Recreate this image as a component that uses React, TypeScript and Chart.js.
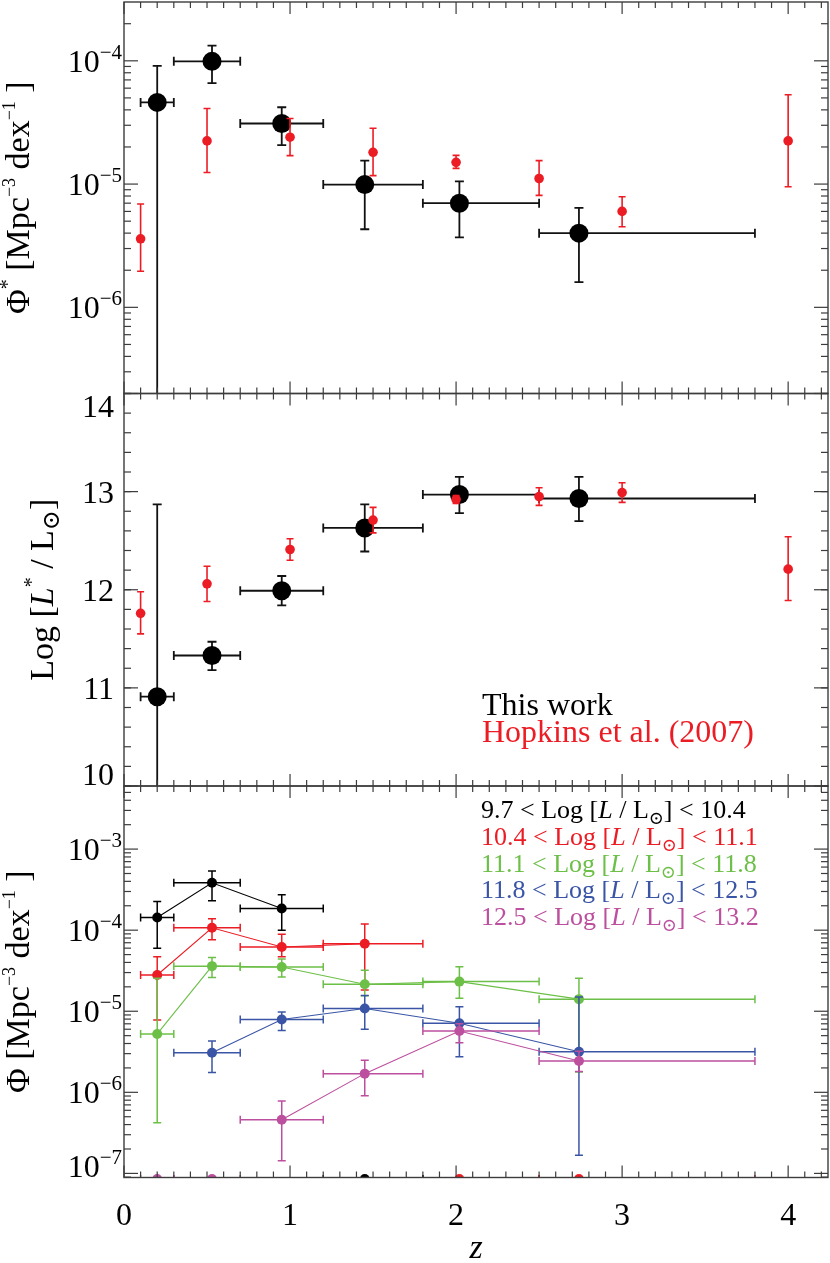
import { useEffect, useRef } from 'react';
import { Chart, registerables } from 'chart.js';

Chart.register(...registerables);

// ---------------- data ----------------
// redshift bins of "This work"
const zThisWork = [0.2, 0.53, 0.95, 1.45, 2.02, 2.74];
const zBinLo = [0.1, 0.3, 0.7, 1.2, 1.8, 2.5];
const zBinHi = [0.3, 0.7, 1.2, 1.8, 2.5, 3.8];

// Panel 1: Phi* (This work)
const phiStar = [4.6e-5, 9.9e-5, 3.1e-5, 9.9e-6, 7.0e-6, 4.0e-6];
const phiStarLo = [1e-9, 6.6e-5, 2.07e-5, 4.3e-6, 3.7e-6, 1.6e-6];
const phiStarHi = [9.1e-5, 1.33e-4, 4.2e-5, 1.55e-5, 1.05e-5, 6.4e-6];

// Hopkins et al. (2007)
const zHopkins = [0.1, 0.5, 1.0, 1.5, 2.0, 2.5, 3.0, 4.0];
const hopPhiStar = [3.6e-6, 2.24e-5, 2.4e-5, 1.81e-5, 1.5e-5, 1.11e-5, 6.0e-6, 2.24e-5];
const hopPhiStarLo = [1.96e-6, 1.24e-5, 1.7e-5, 1.17e-5, 1.34e-5, 8.1e-6, 4.5e-6, 9.5e-6];
const hopPhiStarHi = [6.9e-6, 4.1e-5, 3.4e-5, 2.84e-5, 1.71e-5, 1.55e-5, 7.9e-6, 5.3e-5];

// Panel 2: Log L*
const logLStar = [10.91, 11.33, 11.99, 12.63, 12.97, 12.93];
const logLStarLo = [9.0, 11.18, 11.84, 12.39, 12.78, 12.7];
const logLStarHi = [12.87, 11.47, 12.14, 12.87, 13.15, 13.15];
const hopLogL = [11.76, 12.06, 12.41, 12.71, 12.92, 12.95, 12.99, 12.21];
const hopLogLLo = [11.55, 11.88, 12.3, 12.58, 12.88, 12.86, 12.89, 11.89];
const hopLogLHi = [11.98, 12.24, 12.52, 12.84, 12.96, 13.04, 13.09, 12.54];

// Panel 3: Phi per luminosity bin
const lumBinLabels = [
  ['9.7', '10.4'],
  ['10.4', '11.1'],
  ['11.1', '11.8'],
  ['11.8', '12.5'],
  ['12.5', '13.2'],
];
const binAz = [0.2, 0.53, 0.95];
const binA = [1.43e-4, 3.84e-4, 1.85e-4];
const binALo = [6.0e-5, 2.3e-4, 1.0e-4];
const binAHi = [2.25e-4, 5.35e-4, 2.73e-4];

const binBz = [0.2, 0.53, 0.95, 1.45];
const binB = [2.8e-5, 1.07e-4, 6.2e-5, 6.8e-5];
const binBLo = [7.8e-6, 7.6e-5, 4.7e-5, 1.83e-5];
const binBHi = [4.7e-5, 1.38e-4, 8.9e-5, 1.19e-4];

const binCz = [0.2, 0.53, 0.95, 1.45, 2.02, 2.74];
const binC = [5.25e-6, 3.6e-5, 3.52e-5, 2.15e-5, 2.32e-5, 1.41e-5];
const binCLo = [4.2e-7, 2.6e-5, 2.65e-5, 1.55e-5, 1.45e-5, 1.78e-6];
const binCHi = [2.55e-5, 4.6e-5, 4.4e-5, 3.2e-5, 3.55e-5, 2.55e-5];

const binDz = [0.53, 0.95, 1.45, 2.02, 2.74];
const binD = [3.08e-6, 7.9e-6, 1.08e-5, 7.1e-6, 3.17e-6];
const binDLo = [1.75e-6, 5.8e-6, 6.0e-6, 2.75e-6, 1.68e-7];
const binDHi = [4.3e-6, 9.8e-6, 1.56e-5, 1.14e-5, 1.5e-5];

const binEz = [0.95, 1.45, 2.02, 2.74];
const binE = [4.6e-7, 1.7e-6, 5.7e-6, 2.43e-6];
const binELo = [1.43e-7, 9.1e-7, 4.1e-6, 1.8e-6];
const binEHi = [7.8e-7, 2.48e-6, 7.0e-6, 3.2e-6];

// empty bins (Phi = 0), plotted at the floor of the axis
const emptyAz = [1.45];
const emptyBz = [2.02, 2.74];
const emptyEz = [0.2, 0.53];
const PHI_FLOOR = 8.5e-8;

// axis ticks
const zTicks = [0, 1, 2, 3, 4];
const phiStarTicks = [1e-6, 1e-5, 1e-4];
const logLTicks = [10, 11, 12, 13, 14];
const phiTicks = [1e-7, 1e-6, 1e-5, 1e-4, 1e-3];

// ---------------- layout / style ----------------
const W = 830;
const H = 1263;
const PLOT_LEFT = 124;
const PLOT_RIGHT = 828;
const X_MAX = 4.24;
const PANELS = [
  { top: 2, bottom: 393.5 },
  { top: 393.5, bottom: 786 },
  { top: 786, bottom: 1177.5 },
];
const FONT = "'Liberation Serif', 'Times New Roman', 'DejaVu Serif', serif";
const C_BLACK = '#000000';
const C_RED = '#ec1c24';
const C_GREEN = '#6cbf47';
const C_BLUE = '#3a55a5';
const C_MAG = '#bc4f9e';

type Seg = { t: string; it?: boolean; sz?: number; dy?: number; color?: string };

function fontStr(size: number, italic?: boolean) {
  return `${italic ? 'italic ' : ''}${size}px ${FONT}`;
}
function richWidth(ctx: CanvasRenderingContext2D, segs: Seg[], base: number) {
  let w = 0;
  for (const s of segs) {
    ctx.font = fontStr(s.sz ?? base, s.it);
    w += ctx.measureText(s.t).width;
  }
  return w;
}
function drawRich(
  ctx: CanvasRenderingContext2D,
  segs: Seg[],
  x: number,
  y: number,
  base: number,
  align: 'left' | 'right' | 'center',
) {
  const w = richWidth(ctx, segs, base);
  let cx = align === 'left' ? x : align === 'right' ? x - w : x - w / 2;
  ctx.textAlign = 'left';
  ctx.textBaseline = 'alphabetic';
  for (const s of segs) {
    ctx.font = fontStr(s.sz ?? base, s.it);
    if (s.color) ctx.fillStyle = s.color;
    ctx.fillText(s.t, cx, y + (s.dy ?? 0));
    cx += ctx.measureText(s.t).width;
  }
}

// error bars drawn through the chart scales
const errorBarPlugin = {
  id: 'errbars',
  beforeDatasetDraw(chart: any, args: any) {
    const ds: any = chart.data.datasets[args.index];
    const e = ds.err;
    if (!e) return;
    const { ctx, chartArea: a } = chart;
    const xs = chart.scales.x;
    const ys = chart.scales.y;
    ctx.save();
    ctx.beginPath();
    ctx.rect(a.left, a.top, a.right - a.left, a.bottom - a.top);
    ctx.clip();
    ctx.strokeStyle = e.color;
    ctx.lineWidth = e.width;
    const cap = e.cap / 2;
    const seg = (x1: number, y1: number, x2: number, y2: number) => {
      ctx.beginPath();
      ctx.moveTo(x1, y1);
      ctx.lineTo(x2, y2);
      ctx.stroke();
    };
    ds.data.forEach((p: any, i: number) => {
      const px = xs.getPixelForValue(p.x);
      const py = ys.getPixelForValue(p.y);
      if (e.yLo) {
        const y1 = ys.getPixelForValue(e.yLo[i]);
        const y2 = ys.getPixelForValue(e.yHi[i]);
        seg(px, y1, px, y2);
        seg(px - cap, y1, px + cap, y1);
        seg(px - cap, y2, px + cap, y2);
      }
      if (e.xLo) {
        const x1 = xs.getPixelForValue(e.xLo[i]);
        const x2 = xs.getPixelForValue(e.xHi[i]);
        seg(x1, py, x2, py);
        seg(x1, py - cap, x1, py + cap);
        seg(x2, py - cap, x2, py + cap);
      }
    });
    ctx.restore();
  },
};

function expLabel(v: number): Seg[] {
  const n = Math.round(Math.log10(v));
  return [{ t: '10' }, { t: '\u2212' + Math.abs(n), sz: 21, dy: -13 }];
}

function logMinor(min: number, max: number) {
  const out: number[] = [];
  for (let d = Math.floor(Math.log10(min)); d <= Math.ceil(Math.log10(max)); d++) {
    for (let k = 2; k <= 9; k++) {
      const v = k * Math.pow(10, d);
      if (v >= min && v <= max) out.push(v);
    }
  }
  return out;
}
function linMinor(min: number, max: number, step: number) {
  const out: number[] = [];
  for (let v = min; v <= max + 1e-9; v += step) out.push(Math.round(v * 1000) / 1000);
  return out;
}

type Deco = {
  name: string;
  yMajor: number[];
  yMinor: number[];
  yLabel: (v: number) => Seg[];
  labelRight: number;
  title: Seg[];
  titleX: number;
  legend: { segs: Seg[]; x: number; y: number; size: number; color: string }[];
  xLabels: boolean;
};

function decoPlugin(cfg: Deco) {
  return {
    id: 'deco_' + cfg.name,
    afterDraw(chart: any) {
      const { ctx, chartArea: a } = chart;
      const xs = chart.scales.x;
      const ys = chart.scales.y;
      ctx.save();
      ctx.strokeStyle = '#3c3c3c';
      ctx.lineWidth = 1.2;
      const seg = (x1: number, y1: number, x2: number, y2: number) => {
        ctx.beginPath();
        ctx.moveTo(x1, y1);
        ctx.lineTo(x2, y2);
        ctx.stroke();
      };
      for (let k = 0; k <= 42; k++) {
        const v = k / 10;
        if (v > X_MAX) break;
        const px = xs.getPixelForValue(v);
        const len = k % 10 === 0 ? 12 : 6;
        seg(px, a.top, px, a.top + len);
        seg(px, a.bottom, px, a.bottom - len);
      }
      for (const v of cfg.yMinor) {
        const py = ys.getPixelForValue(v);
        seg(a.left, py, a.left + 7, py);
        seg(a.right, py, a.right - 7, py);
      }
      for (const v of cfg.yMajor) {
        const py = ys.getPixelForValue(v);
        seg(a.left, py, a.left + 14, py);
        seg(a.right, py, a.right - 14, py);
      }
      ctx.lineWidth = 1.4;
      ctx.strokeRect(a.left, a.top, a.right - a.left, a.bottom - a.top);

      ctx.fillStyle = '#000';
      for (const v of cfg.yMajor) {
        let cy = ys.getPixelForValue(v);
        cy = Math.min(Math.max(cy, a.top + 12), a.bottom - 12);
        drawRich(ctx, cfg.yLabel(v), cfg.labelRight, cy + 11, 32, 'right');
      }
      // y title
      ctx.save();
      ctx.translate(cfg.titleX, (a.top + a.bottom) / 2);
      ctx.rotate(-Math.PI / 2);
      ctx.fillStyle = '#000';
      drawRich(ctx, cfg.title, 0, 0, 34, 'center');
      ctx.restore();
      // legend text
      for (const l of cfg.legend) {
        ctx.fillStyle = l.color;
        drawRich(ctx, l.segs, l.x, l.y, l.size, 'left');
      }
      if (cfg.xLabels) {
        ctx.fillStyle = '#000';
        for (const v of zTicks) {
          drawRich(ctx, [{ t: String(v) }], xs.getPixelForValue(v), 1225, 32, 'center');
        }
        drawRich(ctx, [{ t: 'z', it: true }], (a.left + a.right) / 2, 1258, 34, 'center');
      }
      ctx.restore();
    },
  };
}

function pts(xs: number[], ys: number[]) {
  return xs.map((x, i) => ({ x, y: ys[i] }));
}
function binLo(zs: number[]) {
  return zs.map((z) => zBinLo[zThisWork.indexOf(z)]);
}
function binHi(zs: number[]) {
  return zs.map((z) => zBinHi[zThisWork.indexOf(z)]);
}

function makeConfig(panel: number, datasets: any[], yType: string, yMin: number, yMax: number, deco: Deco): any {
  const p = PANELS[panel];
  return {
    type: 'scatter',
    data: { datasets },
    options: {
      responsive: false,
      animation: false,
      devicePixelRatio: 1,
      events: [],
      layout: {
        autoPadding: false,
        padding: { left: PLOT_LEFT, right: W - PLOT_RIGHT, top: p.top, bottom: H - p.bottom },
      },
      scales: {
        x: { type: 'linear', min: 0, max: X_MAX, display: false },
        y: { type: yType, min: yMin, max: yMax, display: false },
      },
      plugins: { legend: { display: false }, tooltip: { enabled: false } },
    },
    plugins: [errorBarPlugin, decoPlugin(deco)],
  };
}

const solarSegs = (lo: string, hi: string): Seg[] => [
  { t: `${lo} < Log [` },
  { t: 'L', it: true },
  { t: ' / L' },
  { t: '\u2299', sz: 18, dy: 6 },
  { t: `] < ${hi}` },
];

function buildConfigs() {
  // panel 1
  const p1 = makeConfig(
    0,
    [
      {
        label: 'Hopkins et al. (2007)',
        data: pts(zHopkins, hopPhiStar),
        pointRadius: 4.8,
        pointBackgroundColor: C_RED,
        pointBorderWidth: 0,
        order: 0,
        err: { yLo: hopPhiStarLo, yHi: hopPhiStarHi, color: C_RED, width: 1.6, cap: 7 },
      },
      {
        label: 'This work',
        data: pts(zThisWork, phiStar),
        pointRadius: 9.5,
        pointBackgroundColor: C_BLACK,
        pointBorderWidth: 0,
        order: 1,
        err: { yLo: phiStarLo, yHi: phiStarHi, xLo: zBinLo, xHi: zBinHi, color: '#111', width: 1.8, cap: 9 },
      },
    ],
    'logarithmic',
    2e-7,
    3e-4,
    {
      name: 'p1',
      yMajor: phiStarTicks,
      yMinor: logMinor(2e-7, 3e-4),
      yLabel: expLabel,
      labelRight: 122,
      title: [
        { t: '\u03A6' },
        { t: '*', sz: 20, dy: -15 },
        { t: ' [Mpc' },
        { t: '\u22123', sz: 18, dy: -14 },
        { t: ' dex' },
        { t: '\u22121', sz: 18, dy: -14 },
        { t: ' ]' },
      ],
      titleX: 29,
      legend: [],
      xLabels: false,
    },
  );

  const p2 = makeConfig(
    1,
    [
      {
        label: 'Hopkins et al. (2007)',
        data: pts(zHopkins, hopLogL),
        pointRadius: 4.8,
        pointBackgroundColor: C_RED,
        pointBorderWidth: 0,
        order: 0,
        err: { yLo: hopLogLLo, yHi: hopLogLHi, color: C_RED, width: 1.6, cap: 7 },
      },
      {
        label: 'This work',
        data: pts(zThisWork, logLStar),
        pointRadius: 9.5,
        pointBackgroundColor: C_BLACK,
        pointBorderWidth: 0,
        order: 1,
        err: { yLo: logLStarLo, yHi: logLStarHi, xLo: zBinLo, xHi: zBinHi, color: '#111', width: 1.8, cap: 9 },
      },
    ],
    'linear',
    10,
    14,
    {
      name: 'p2',
      yMajor: logLTicks,
      yMinor: linMinor(10, 14, 0.2),
      yLabel: (v: number) => [{ t: String(v) }],
      labelRight: 114,
      title: [
        { t: 'Log [' },
        { t: 'L', it: true },
        { t: '*', sz: 20, dy: -15 },
        { t: ' / L' },
        { t: '\u2299', sz: 24, dy: 6 },
        { t: ']' },
      ],
      titleX: 53,
      legend: [
        { segs: [{ t: 'This work' }], x: 482, y: 715, size: 32, color: C_BLACK },
        { segs: [{ t: 'Hopkins et al. (2007)' }], x: 482, y: 742, size: 32, color: C_RED },
      ],
      xLabels: false,
    },
  );

  const series = [
    { z: binAz, v: binA, lo: binALo, hi: binAHi, c: C_BLACK },
    { z: binBz, v: binB, lo: binBLo, hi: binBHi, c: C_RED },
    { z: binCz, v: binC, lo: binCLo, hi: binCHi, c: C_GREEN },
    { z: binDz, v: binD, lo: binDLo, hi: binDHi, c: C_BLUE },
    { z: binEz, v: binE, lo: binELo, hi: binEHi, c: C_MAG },
  ];
  const empties = [
    { z: emptyAz, c: C_BLACK },
    { z: emptyBz, c: C_RED },
    { z: emptyEz, c: C_MAG },
  ];
  const mainSets = series.map((s, i) => ({
    label: `${lumBinLabels[i][0]} < Log L < ${lumBinLabels[i][1]}`,
    data: pts(s.z, s.v),
    showLine: true,
    borderColor: s.c,
    borderWidth: 1.1,
    pointRadius: 5,
    pointBackgroundColor: s.c,
    pointBorderWidth: 0,
    order: series.length - 1 - i + 3,
    err: { yLo: s.lo, yHi: s.hi, xLo: binLo(s.z), xHi: binHi(s.z), color: s.c, width: 1.5, cap: 8 },
  }));
  const emptySets = empties.map((s, i) => ({
    label: 'empty',
    data: s.z.map((z) => ({ x: z, y: PHI_FLOOR })),
    showLine: false,
    pointRadius: 5,
    pointBackgroundColor: s.c,
    pointBorderWidth: 0,
    order: i,
    err: { xLo: binLo(s.z), xHi: binHi(s.z), color: s.c, width: 1.5, cap: 8 },
  }));
  const p3 = makeConfig(
    2,
    [...mainSets, ...emptySets],
    'logarithmic',
    8.9e-8,
    6e-3,
    {
      name: 'p3',
      yMajor: phiTicks,
      yMinor: logMinor(8.9e-8, 6e-3),
      yLabel: expLabel,
      labelRight: 122,
      title: [
        { t: '\u03A6 [Mpc' },
        { t: '\u22123', sz: 18, dy: -14 },
        { t: ' dex' },
        { t: '\u22121', sz: 18, dy: -14 },
        { t: ' ]' },
      ],
      titleX: 29,
      legend: series.map((s, i) => ({
        segs: solarSegs(lumBinLabels[i][0], lumBinLabels[i][1]),
        x: 481,
        y: 818 + i * 26.8,
        size: 26,
        color: s.c,
      })),
      xLabels: true,
    },
  );
  return [p1, p2, p3];
}

export default function App() {
  const r1 = useRef<HTMLCanvasElement>(null);
  const r2 = useRef<HTMLCanvasElement>(null);
  const r3 = useRef<HTMLCanvasElement>(null);
  useEffect(() => {
    const cfgs = buildConfigs();
    const refs = [r1, r2, r3];
    const charts = refs.map((r, i) => new Chart(r.current as HTMLCanvasElement, cfgs[i]));
    return () => charts.forEach((c) => c.destroy());
  }, []);
  const cs: any = { position: 'absolute', left: 0, top: 0, width: W, height: H };
  return (
    <div style={{ position: 'absolute', left: 0, top: 0, width: W, height: H, background: '#fff' }}>
      <canvas ref={r1} width={W} height={H} style={cs} />
      <canvas ref={r2} width={W} height={H} style={cs} />
      <canvas ref={r3} width={W} height={H} style={cs} />
    </div>
  );
}
